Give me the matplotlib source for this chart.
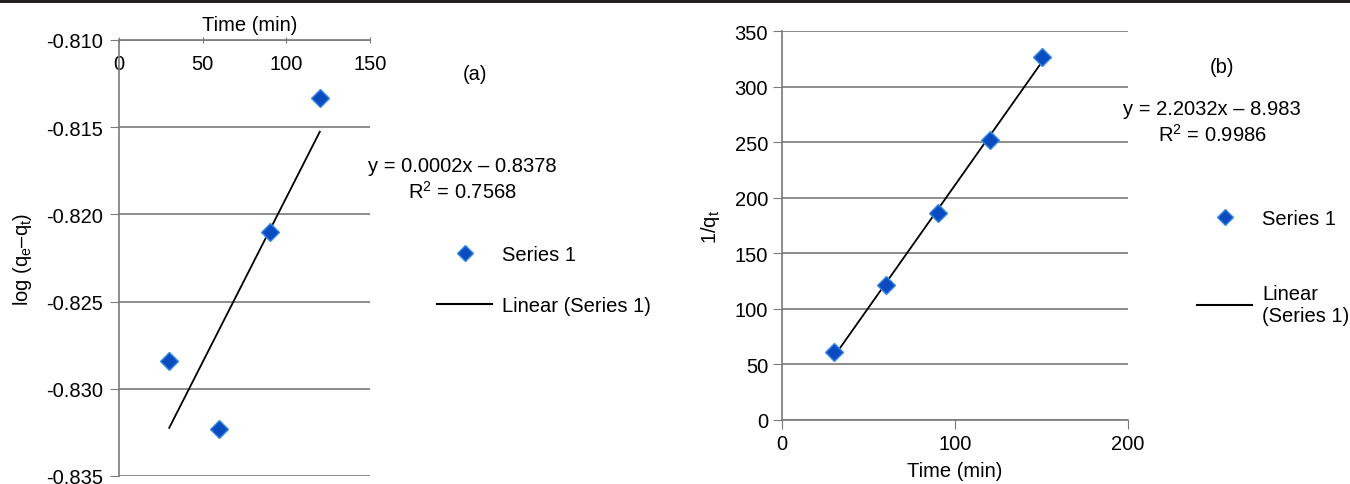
import numpy as np
import matplotlib.pyplot as plt
from matplotlib.lines import Line2D
from matplotlib.patches import Rectangle

plt.rcParams['font.family'] = ['Liberation Sans', 'DejaVu Sans']
plt.rcParams['font.size'] = 14.5
plt.rcParams['axes.unicode_minus'] = False
plt.rcParams['mathtext.fontset'] = 'custom'
plt.rcParams['mathtext.rm'] = 'Liberation Sans'
plt.rcParams['mathtext.it'] = 'Liberation Sans:italic'

# (a) pseudo-first-order: log(qe - qt) against time
time_a = [30, 60, 90, 120]
log_qe_qt = [-0.8284, -0.8323, -0.8210, -0.8133]
xticks_a = [0, 50, 100, 150]
yticks_a = [-0.835, -0.830, -0.825, -0.820, -0.815, -0.810]
eq_a = 'y = 0.0002x – 0.8378\nR$^{2}$ = 0.7568'

# (b) pseudo-second-order: 1/qt against time
time_b = [30, 60, 90, 120, 150]
inv_qt = [60.8, 121.3, 186.0, 252.2, 326.2]
xticks_b = [0, 100, 200]
yticks_b = [0, 50, 100, 150, 200, 250, 300, 350]
eq_b = 'y = 2.2032x – 8.983\nR$^{2}$ = 0.9986'

W, H = 1350, 485
blue = '#0a4cc0'
blue_edge = '#3a8ae2'
grey = '#7a7a7a'


def fx(x):
    return x / W


def fy(y):
    return 1 - y / H


fig = plt.figure(figsize=(W / 100, H / 100), dpi=100)
fig.add_artist(Rectangle((0, fy(3.5)), 1, 3.5 / H, transform=fig.transFigure,
                         color='#231f20', lw=0))

# ---- panel (a) ----
ax = fig.add_axes([fx(119), fy(477), fx(370 - 119), (477 - 41) / H])
ax.plot(time_a, log_qe_qt, 'D', ms=9, color=blue, mec=blue_edge, mew=1,
        zorder=4)
coef = np.polyfit(time_a, log_qe_qt, 1)
xs = np.array([min(time_a), max(time_a)])
ax.plot(xs, np.polyval(coef, xs), color='k', lw=1.3, zorder=3)
ax.set_xlim(0, 150)
ax.set_ylim(-0.835, -0.810)
ax.set_xticks(xticks_a)
ax.set_yticks(yticks_a)
ax.set_yticklabels(['%.3f' % v for v in yticks_a])
ax.yaxis.grid(True, color=grey, lw=1.2)
ax.set_axisbelow(True)
for s in ['right', 'bottom']:
    ax.spines[s].set_visible(False)
for s in ['left', 'top']:
    ax.spines[s].set_color(grey)
    ax.spines[s].set_linewidth(1.2)
ax.tick_params(axis='x', top=True, bottom=False, labeltop=True,
               labelbottom=False, direction='inout', length=5, pad=-26,
               color=grey)
ax.tick_params(axis='y', direction='out', length=6.5, pad=5, color=grey)
ax.xaxis.set_label_position('top')
ax.set_xlabel('Time (min)')
ax.xaxis.set_label_coords(0.522, 1.023)
ax.set_ylabel('log (q$_{\\rm e}$–q$_{\\rm t}$)', labelpad=9)

fig.text(fx(475), fy(75), '(a)', ha='center', va='center')
fig.text(fx(462), fy(180), eq_a, ha='center', va='center',
         multialignment='center', linespacing=1.3)
fig.legend(handles=[Line2D([], [], ls='', marker='D', ms=8, color=blue,
                           mec=blue_edge),
                    Line2D([], [], color='k', lw=1.5)],
           labels=['Series 1', 'Linear (Series 1)'],
           loc='center left', bbox_to_anchor=(fx(437), fy(281)),
           frameon=False, borderpad=0, borderaxespad=0, handlelength=2.75,
           handletextpad=0.5, labelspacing=1.62, numpoints=1)

# ---- panel (b) ----
bx = fig.add_axes([fx(782), fy(421), fx(1128 - 782), (421 - 32) / H])
bx.plot(time_b, inv_qt, 'D', ms=9, color=blue, mec=blue_edge, mew=1,
        zorder=4)
coef = np.polyfit(time_b, inv_qt, 1)
xs = np.array([min(time_b), max(time_b)])
bx.plot(xs, np.polyval(coef, xs), color='k', lw=1.3, zorder=3)
bx.set_xlim(0, 200)
bx.set_ylim(0, 350)
bx.set_xticks(xticks_b)
bx.set_yticks(yticks_b)
bx.yaxis.grid(True, color=grey, lw=1.2)
bx.set_axisbelow(True)
for s in ['right', 'top']:
    bx.spines[s].set_visible(False)
for s in ['left', 'bottom']:
    bx.spines[s].set_color(grey)
    bx.spines[s].set_linewidth(1.2)
bx.tick_params(direction='out', length=6.5, pad=3.5, color=grey)
bx.set_xlabel('Time (min)', labelpad=6)
bx.set_ylabel('1/q$_{\\rm t}$', labelpad=9)

fig.text(fx(1222), fy(68), '(b)', ha='center', va='center')
fig.text(fx(1212), fy(123), eq_b, ha='center', va='center',
         multialignment='center', linespacing=1.3)
fig.legend(handles=[Line2D([], [], ls='', marker='D', ms=8, color=blue,
                           mec=blue_edge),
                    Line2D([], [], color='k', lw=1.5)],
           labels=['Series 1', 'Linear\n(Series 1)'],
           loc='center left', bbox_to_anchor=(fx(1197), fy(268)),
           frameon=False, borderpad=0, borderaxespad=0, handlelength=2.75,
           handletextpad=0.5, labelspacing=2.75, numpoints=1)

fig.savefig('out.png', dpi=100)
